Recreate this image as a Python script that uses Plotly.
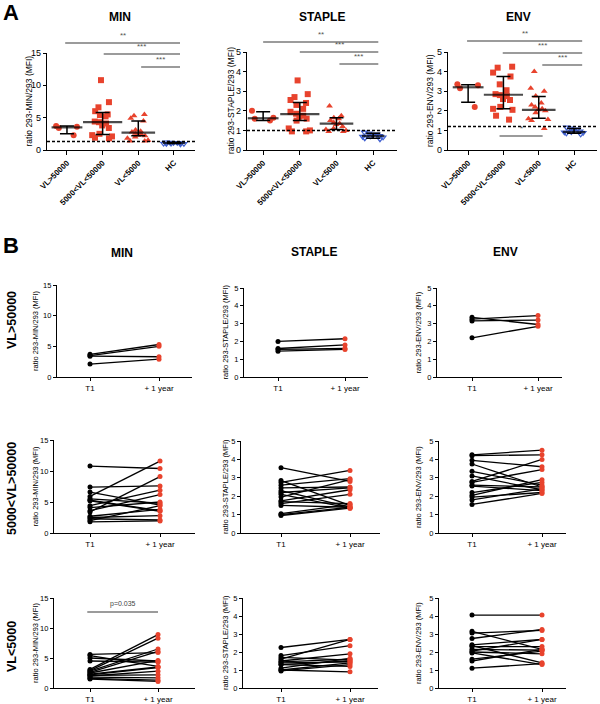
import plotly.graph_objects as go

W, H = 600, 704
RED = '#e8432d'
BLUE = '#3f5fd0'
FONT = 'Liberation Sans, Arial, Helvetica, sans-serif'

# ---------------- data ----------------
antigens = ['MIN', 'STAPLE', 'ENV']
groups = ['VL>50000', '5000<VL<50000', 'VL<5000', 'HC']
group_labels = ['VL&gt;50000', '5000&lt;VL&lt;50000', 'VL&lt;5000', 'HC']
y_titles = ['ratio 293-MIN/293 (MFI)', 'ratio 293-STAPLE/293 (MFI)', 'ratio 293-ENV/293 (MFI)']
y_max = [15, 5, 5]
ticks_min = [0, 5, 10, 15]
ticks_other = [0, 1, 2, 3, 4, 5]
row_labels = ['VL&gt;50000', '5000&lt;VL&gt;50000', 'VL&lt;5000']
time_labels = ['T1', '+ 1 year']
cutoffs = [1.3, 1.0, 1.2]

# Panel A - MIN
min_vl_high = [3.7, 3.6, 3.4, 2.3]
min_vl_mid = [10.8, 7.4, 6.6, 6.0, 5.5, 5.4, 5.2, 4.4, 4.3, 4.1, 3.8, 3.4, 2.5, 2.3, 2.1, 1.9, 1.8]
min_vl_low = [5.5, 5.3, 4.9, 4.5, 3.1, 2.9, 2.8, 2.6, 2.5, 2.3, 2.2, 2.0, 1.8, 1.5, 1.4, 1.4]
min_hc = [1.2, 1.15, 1.1, 1.1, 1.05, 1.0, 1.0, 0.95, 0.95, 0.9]
min_median = [3.5, 4.3, 2.7, 1.08]
min_q1 = [2.5, 2.4, 2.2, 1.0]
min_q3 = [3.7, 5.8, 4.5, 1.15]

# Panel A - STAPLE
staple_vl_high = [2.0, 1.65, 1.6, 1.5]
staple_vl_mid = [3.55, 2.85, 2.7, 2.55, 2.4, 2.3, 2.1, 1.95, 1.85, 1.75, 1.7, 1.6, 1.5, 1.1, 1.0, 0.95, 0.95]
staple_vl_low = [2.25, 1.75, 1.65, 1.6, 1.5, 1.4, 1.35, 1.3, 1.2, 1.1, 1.05, 1.0, 0.95, 0.95]
staple_hc = [0.9, 0.85, 0.8, 0.75, 0.72, 0.7, 0.68, 0.65, 0.6, 0.55]
staple_median = [1.62, 1.83, 1.35, 0.72]
staple_q1 = [1.5, 1.5, 1.04, 0.6]
staple_q3 = [1.95, 2.42, 1.64, 0.85]

# Panel A - ENV
env_vl_high = [3.35, 3.3, 3.15, 2.2]
env_vl_mid = [4.25, 4.2, 3.95, 3.75, 3.35, 3.05, 2.85, 2.8, 2.75, 2.6, 2.55, 2.2, 2.1, 2.05, 1.75, 1.55]
env_vl_low = [4.0, 3.15, 3.0, 2.75, 2.4, 2.3, 2.2, 2.1, 2.05, 2.0, 1.9, 1.6, 1.55, 1.5, 1.1]
env_hc = [1.15, 1.1, 1.05, 1.0, 0.95, 0.92, 0.9, 0.88, 0.85, 0.8]
env_median = [3.2, 2.82, 2.05, 0.92]
env_q1 = [2.44, 2.1, 1.62, 0.85]
env_q3 = [3.33, 3.75, 2.73, 1.1]

# significance comparisons (group index from, to, label)
sig_min = [(0, 3, '**'), (1, 3, '***'), (2, 3, '***')]
sig_staple = [(0, 3, '**'), (1, 3, '***'), (2, 3, '***')]
sig_env = [(0, 3, '**'), (1, 3, '***'), (2, 3, '***'), (1, 2, '*')]

# Panel B - paired values (T1, +1 year)
min_high_t1 = [3.7, 3.5, 3.4, 2.1]
min_high_1y = [5.3, 5.0, 3.3, 2.9]
staple_high_t1 = [2.0, 1.6, 1.55, 1.45]
staple_high_1y = [2.15, 1.8, 1.6, 1.55]
env_high_t1 = [3.35, 3.25, 3.15, 2.2]
env_high_1y = [2.95, 3.45, 3.2, 2.85]

min_mid_t1 = [10.8, 7.4, 6.6, 5.9, 5.5, 5.3, 5.2, 4.4, 4.1, 3.6, 3.4, 2.7, 2.5, 2.3, 2.0, 1.8]
min_mid_1y = [10.4, 7.6, 4.5, 11.6, 4.8, 3.6, 3.5, 6.9, 5.0, 6.2, 9.1, 3.8, 2.8, 2.1, 4.4, 1.95]
staple_mid_t1 = [3.55, 2.85, 2.75, 2.6, 2.45, 2.3, 2.2, 2.1, 1.95, 1.75, 1.7, 1.6, 1.5, 1.05, 0.95, 1.0]
staple_mid_1y = [2.8, 1.5, 3.4, 2.95, 2.5, 1.4, 2.45, 1.35, 2.9, 2.35, 1.6, 2.1, 1.4, 1.55, 1.35, 1.4]
env_mid_t1 = [4.25, 4.2, 3.95, 3.75, 3.35, 3.1, 2.8, 2.75, 2.6, 2.55, 2.2, 2.05, 1.95, 1.8, 1.55]
env_mid_1y = [4.5, 4.25, 3.6, 2.5, 2.6, 2.35, 4.0, 3.45, 2.5, 2.3, 2.75, 2.9, 2.2, 2.4, 2.15]

min_low_t1 = [5.6, 5.4, 5.0, 4.5, 3.1, 2.9, 2.8, 2.6, 2.5, 2.3, 2.2, 2.0, 1.8, 1.6, 1.5, 2.1]
min_low_1y = [5.9, 3.6, 4.5, 4.3, 8.9, 8.3, 6.5, 6.1, 4.6, 3.5, 3.4, 2.8, 1.7, 1.3, 1.1, 2.2]
staple_low_t1 = [2.25, 1.8, 1.7, 1.6, 1.5, 1.45, 1.4, 1.3, 1.3, 1.1, 1.0, 1.0, 0.95]
staple_low_1y = [2.7, 2.35, 1.55, 2.7, 1.9, 1.6, 1.45, 1.5, 1.2, 1.65, 1.4, 0.9, 1.3]
env_low_t1 = [4.05, 3.15, 3.05, 2.75, 2.4, 2.35, 2.3, 2.15, 2.05, 2.0, 1.95, 1.6, 1.5, 1.1]
env_low_1y = [4.05, 2.15, 3.2, 3.25, 2.7, 1.4, 2.3, 2.1, 2.7, 1.9, 1.3, 2.05, 2.15, 1.35]

p_label = 'p=0.035'

A_values = [
    [min_vl_high, min_vl_mid, min_vl_low, min_hc],
    [staple_vl_high, staple_vl_mid, staple_vl_low, staple_hc],
    [env_vl_high, env_vl_mid, env_vl_low, env_hc],
]
A_stats = [(min_median, min_q1, min_q3), (staple_median, staple_q1, staple_q3), (env_median, env_q1, env_q3)]
A_sig = [sig_min, sig_staple, sig_env]
B_pairs = [
    [(min_high_t1, min_high_1y), (staple_high_t1, staple_high_1y), (env_high_t1, env_high_1y)],
    [(min_mid_t1, min_mid_1y), (staple_mid_t1, staple_mid_1y), (env_mid_t1, env_mid_1y)],
    [(min_low_t1, min_low_1y), (staple_low_t1, staple_low_1y), (env_low_t1, env_low_1y)],
]

# ---------------- layout geometry (pixels) ----------------
A_geom = [(47, 195, 53, 150, [-0.56, 3.59]),
          (247, 397, 52, 150, [-0.44, 3.65]),
          (448, 597, 52, 150, [-0.57, 3.65])]
A_ytitle_x = [28, 231, 430]
A_title_pos = [(120, 17), (322, 17), (518, 17)]
A_sig_px = [[43, 54, 67], [42, 52, 64], [41, 53, 65, 136]]
A_sig_x = [[(-0.05, 3.17), (1.03, 3.17), (2.08, 3.17)],
           [(0.0, 3.14), (1.0, 3.14), (2.08, 3.14)],
           [(-0.03, 3.23), (0.98, 3.23), (2.1, 3.23), (0.89, 2.11)]]
group_symbols = ['circle', 'square', 'triangle-up', 'triangle-down-open']
group_colors = [RED, RED, RED, BLUE]
median_sizes = [22, 28, 24, 16]

B_geom = [
    [(57, 192, 285, 377, 90, 159), (244, 368, 288, 377, 278, 345), (437, 562, 288, 377, 472, 538)],
    [(54, 195, 440, 533, 90, 160), (241, 380, 441, 533, 281, 350), (439, 566, 441, 533, 472, 542)],
    [(54, 195, 598, 688, 90, 158), (243, 378, 598, 688, 281, 350), (439, 566, 598, 688, 472, 542)],
]
B_ytitle_x = [35, 225, 418]
B_title_pos = [(122, 253), (314, 252), (505, 252)]
B_row_y = [320, 489, 647]

fig = go.Figure()
layout = dict(template='none', width=W, height=H, margin=dict(l=0, r=0, t=0, b=0, pad=0),
              autosize=False,
              paper_bgcolor='white', plot_bgcolor='white', showlegend=False,
              boxmode='overlay', font=dict(family=FONT, color='black'))
annotations = []
shapes = []
counter = [0]


def px2x(p):
    return p / W


def px2y(p):
    return 1 - p / H


def label(text, xpx, ypx, size, angle=0, color='black'):
    annotations.append(dict(text=text, x=px2x(xpx), y=px2y(ypx), xref='paper', yref='paper',
                            xanchor='center', yanchor='middle', showarrow=False,
                            textangle=angle, font=dict(size=size, family=FONT, color=color)))


def add_axes(x0, x1, y0, y1, xr, yr, xkw, ykw, tl=4):
    counter[0] += 1
    n = counter[0]
    s = '' if n == 1 else str(n)
    common = dict(showline=True, linecolor='black', linewidth=1.2, ticks='outside',
                  tickcolor='black', tickwidth=1.2, showgrid=False,
                  zeroline=False, fixedrange=True, automargin=False)
    layout['xaxis' + s] = dict(domain=[px2x(x0), px2x(x1)], range=xr, anchor='y' + s,
                               ticklen=tl, **common, **xkw)
    layout['yaxis' + s] = dict(domain=[px2y(y1), px2y(y0)], range=yr, anchor='x' + s,
                               ticklen=3, **common, **ykw)
    return 'x' + s, 'y' + s


# panel letters
label('<b>A</b>', 11, 12, 22)
label('<b>B</b>', 11, 245, 22)

# ---------------- Panel A ----------------
for a in range(3):
    x0, x1, y0, y1, xr = A_geom[a]
    yt = ticks_min if a == 0 else ticks_other
    xk = dict(type='category', categoryorder='array', categoryarray=groups,
              tickmode='array', tickvals=groups, ticktext=group_labels,
              tickangle=-45, tickfont=dict(size=8, family=FONT, weight='bold'))
    yk = dict(tickmode='array', tickvals=yt, tickfont=dict(size=9, family=FONT))
    xa, ya = add_axes(x0, x1, y0, y1, xr, [0, y_max[a]], xk, yk)
    for g, vals in enumerate(A_values[a]):
        open_sym = group_symbols[g].endswith('open')
        fig.add_trace(go.Box(
            x=[groups[g]] * len(vals), y=vals, xaxis=xa, yaxis=ya,
            boxpoints='all', jitter=0.9, pointpos=0, width=0.8,
            line=dict(width=0, color='rgba(0,0,0,0)'), fillcolor='rgba(0,0,0,0)',
            marker=dict(symbol=group_symbols[g], size=5 if open_sym else 6,
                        color=group_colors[g],
                        line=dict(width=1.2 if open_sym else 0, color=group_colors[g])),
            hoverinfo='skip'))
    med, q1, q3 = A_stats[a]
    fig.add_trace(go.Scatter(
        x=groups, y=med, xaxis=xa, yaxis=ya, mode='markers',
        marker=dict(symbol='line-ew', size=median_sizes, line=dict(width=2.2, color='black')),
        error_y=dict(type='data', symmetric=False,
                     array=[h - m for h, m in zip(q3, med)],
                     arrayminus=[m - l for m, l in zip(med, q1)],
                     color='black', thickness=1.5, width=7),
        hoverinfo='skip'))
    shapes.append(dict(type='line', xref=xa + ' domain', yref=ya, x0=0, x1=1,
                       y0=cutoffs[a], y1=cutoffs[a],
                       line=dict(color='black', width=1.5, dash='3px,2px')))
    tx, ty = A_title_pos[a]
    label('<b>%s</b>' % antigens[a], tx, ty, 12)
    label(y_titles[a], A_ytitle_x[a], (y0 + y1) / 2, 8.5, angle=-90)
    for k, (gi, gj, lab) in enumerate(A_sig[a]):
        py = A_sig_px[a][k]
        sx0, sx1 = A_sig_x[a][k]
        shapes.append(dict(type='line', xref=xa, yref='paper', x0=sx0, x1=sx1,
                           y0=px2y(py), y1=px2y(py), line=dict(color='#7a7a7a', width=1.5)))
        annotations.append(dict(text=lab, xref=xa, yref='paper', x=(sx0 + sx1) / 2,
                                y=px2y(py - 1), xanchor='center', yanchor='bottom',
                                showarrow=False,
                                font=dict(size=8, color='#555555', family=FONT)))

# ---------------- Panel B ----------------
for r in range(3):
    for c in range(3):
        x0, x1, y0, y1, pt1, pt2 = B_geom[r][c]
        sc = pt2 - pt1
        xr = [(x0 - pt1) / sc, (x1 - pt1) / sc]
        yt = ticks_min if c == 0 else ticks_other
        xk = dict(tickmode='array', tickvals=[0, 1], ticktext=time_labels,
                  tickfont=dict(size=8, family=FONT))
        yk = dict(tickmode='array', tickvals=yt, tickfont=dict(size=7.5, family=FONT))
        xa, ya = add_axes(x0, x1, y0, y1, xr, [0, y_max[c]], xk, yk, tl=3)
        t1, t2 = B_pairs[r][c]
        xs, ys, cols = [], [], []
        for v1, v2 in zip(t1, t2):
            xs += [0, 1, None]
            ys += [v1, v2, None]
            cols += ['black', RED, 'black']
        fig.add_trace(go.Scatter(x=xs, y=ys, xaxis=xa, yaxis=ya, mode='lines+markers',
                                 line=dict(color='black', width=1.3),
                                 marker=dict(size=5, color=cols), cliponaxis=False,
                                 hoverinfo='skip'))
        label(y_titles[c], B_ytitle_x[c], (y0 + y1) / 2, 7.5, angle=-90)
        if r == 0:
            tx, ty = B_title_pos[c]
            label('<b>%s</b>' % antigens[c], tx, ty, 12)
        if c == 0:
            label('<b>%s</b>' % row_labels[r], 12, B_row_y[r], 12.5, angle=-90)
        if r == 2 and c == 0:
            shapes.append(dict(type='line', xref=xa, yref='paper', x0=-0.04, x1=1.0,
                               y0=px2y(612), y1=px2y(612), line=dict(color='#7a7a7a', width=1.3)))
            annotations.append(dict(text=p_label, xref=xa, yref='paper', x=0.48, y=px2y(610),
                                    xanchor='center', yanchor='bottom', showarrow=False,
                                    font=dict(size=7, color='#444444', family=FONT)))

layout['annotations'] = annotations
layout['shapes'] = shapes
fig.update_layout(**layout)
fig.write_html('out.html', config={'displayModeBar': False},
               post_script="document.body.style.margin='0';document.body.style.overflow='hidden';")
